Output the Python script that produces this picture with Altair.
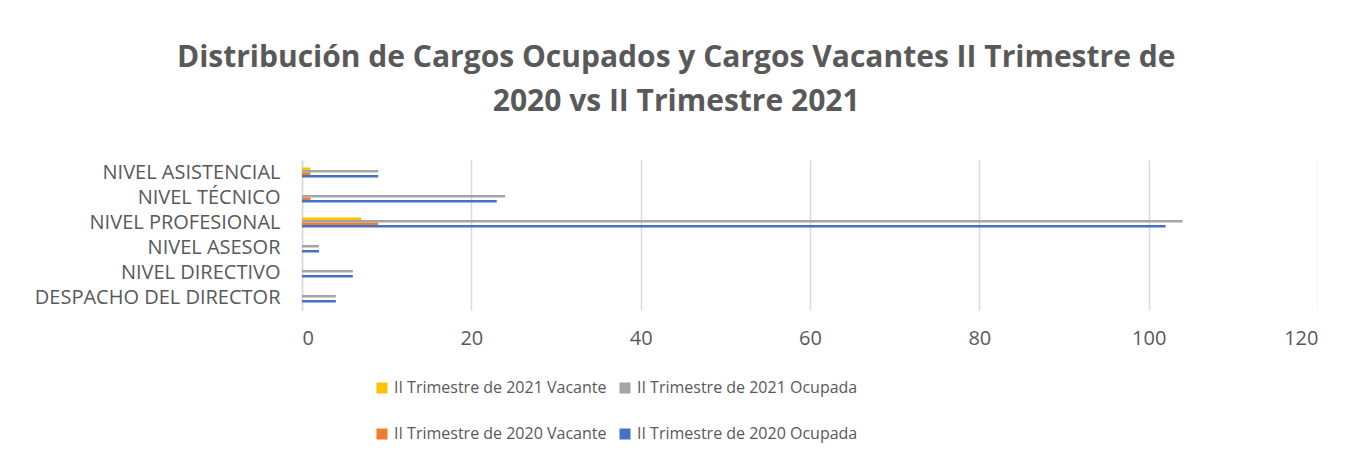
import altair as alt
import pandas as pd

categories = ["NIVEL ASISTENCIAL", "NIVEL TÉCNICO", "NIVEL PROFESIONAL",
              "NIVEL ASESOR", "NIVEL DIRECTIVO", "DESPACHO DEL DIRECTOR"]
series = ["II Trimestre de 2021 Vacante", "II Trimestre de 2021 Ocupada",
          "II Trimestre de 2020 Vacante", "II Trimestre de 2020 Ocupada"]
v2021_vacante = [1, 0, 7, 0, 0, 0]
v2021_ocupada = [9, 24, 104, 2, 6, 4]
v2020_vacante = [1, 1, 9, 0, 0, 0]
v2020_ocupada = [9, 23, 102, 2, 6, 4]
colors = ["#FFC000", "#A5A5A5", "#ED7D31", "#4472C4"]
x_ticks = [0, 20, 40, 60, 80, 100, 120]

rows = []
for s, vals in zip(series, [v2021_vacante, v2021_ocupada, v2020_vacante, v2020_ocupada]):
    for c, v in zip(categories, vals):
        rows.append({"cat": c, "serie": s, "valor": v})
df = pd.DataFrame(rows)

FONT = "Open Sans"
GREY = "#595959"

chart = alt.Chart(df).mark_bar(size=2.5).encode(
    y=alt.Y("cat:N", sort=categories, title=None,
            scale=alt.Scale(paddingInner=0.6, paddingOuter=0.3),
            axis=alt.Axis(labelFont=FONT, labelFontSize=20, labelColor=GREY,
                          ticks=False, labelPadding=22, domainColor="#D9D9D9",
                          domainWidth=1.5, labelLimit=400)),
    yOffset=alt.YOffset("serie:N", sort=series,
                        scale=alt.Scale(paddingInner=0, paddingOuter=0)),
    x=alt.X("valor:Q", title=None,
            scale=alt.Scale(domain=[0, 120], nice=False),
            axis=alt.Axis(values=x_ticks, labelFont=FONT, labelFontSize=20,
                          labelColor=GREY, ticks=False, domain=False,
                          gridColor="#D9D9D9", gridWidth=1.5, labelPadding=18)),
    color=alt.Color("serie:N", sort=series,
                    scale=alt.Scale(domain=series, range=colors),
                    legend=alt.Legend(title=None, orient="none", legendX=72, legendY=220,
                                      direction="horizontal",
                                      columns=2, labelFont=FONT, labelFontSize=16,
                                      labelColor=GREY, symbolType="square",
                                      symbolSize=121, symbolStrokeWidth=0,
                                      rowPadding=30, columnPadding=10,
                                      labelLimit=400)),
).properties(
    width=1016, height=150,
    title=alt.TitleParams(
        ["Distribución de Cargos Ocupados y Cargos Vacantes II Trimestre de",
         "2020 vs II Trimestre  2021"],
        font=FONT, fontSize=30, fontWeight="bold", color=GREY,
        lineHeight=44, offset=43, anchor="middle", frame="bounds"),
    padding={"left": 26, "top": 35, "right": 0, "bottom": 5},
).configure_view(stroke=None)

chart.save("out.html", embed_options={"renderer": "svg", "actions": False})
